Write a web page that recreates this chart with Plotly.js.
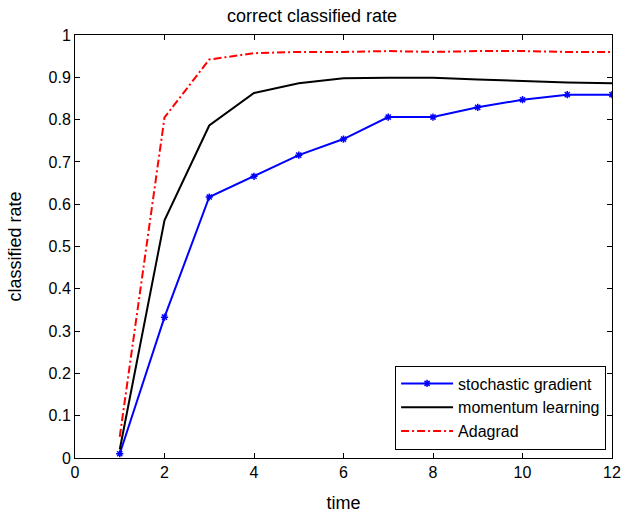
<!DOCTYPE html>
<html>
<head>
<meta charset="utf-8">
<script src="https://cdn.plot.ly/plotly-3.0.1.min.js"></script>
<style>html,body{margin:0;padding:0;background:#fff;}#chart{width:624px;height:516px;}</style>
</head>
<body>
<div id="chart"></div>
<script>
const time = [1,2,3,4,5,6,7,8,9,10,11,12];
const stochastic = [0.01,0.333,0.617,0.666,0.716,0.754,0.806,0.806,0.829,0.847,0.859,0.859];
const momentum = [0.02,0.562,0.786,0.863,0.886,0.898,0.899,0.899,0.895,0.891,0.888,0.886];
const adagrad = [0.05,0.805,0.942,0.957,0.960,0.960,0.962,0.960,0.962,0.962,0.960,0.960];
const xTicks = [0,2,4,6,8,10,12];
const yTicks = [0,0.1,0.2,0.3,0.4,0.5,0.6,0.7,0.8,0.9,1];
const yTickText = ["0","0.1","0.2","0.3","0.4","0.5","0.6","0.7","0.8","0.9","1"];

const traces = [
  {x: time, y: stochastic, name: 'stochastic gradient', mode: 'lines+markers',
   line: {color: '#0000ff', width: 2}, marker: {symbol: 'asterisk-open', size: 6, color: '#0000ff', line: {color: '#0000ff', width: 1.5}}},
  {x: time, y: momentum, name: 'momentum learning', mode: 'lines',
   line: {color: '#000000', width: 2}},
  {x: time, y: adagrad, name: 'Adagrad', mode: 'lines',
   line: {color: '#ff0000', width: 2, dash: '8px,3px,2px,3px'}}
];

const axisCommon = {
  showgrid: false, zeroline: false, showline: true, linecolor: '#000', linewidth: 1,
  mirror: 'ticks', ticks: 'inside', ticklen: 5, tickcolor: '#000', tickwidth: 1,
  tickfont: {family: 'Liberation Sans, Arial, sans-serif', size: 16, color: '#000'}
};

const layout = {
  width: 624, height: 516,
  margin: {l: 75, r: 12, t: 35, b: 58},
  paper_bgcolor: '#fff', plot_bgcolor: '#fff',
  font: {family: 'Liberation Sans, Arial, sans-serif', color: '#000'},
  title: {text: 'correct classified rate', font: {size: 18, color: '#000'}, x: 0.5, xanchor: 'center', y: 0.97, yanchor: 'middle'},
  xaxis: Object.assign({}, axisCommon, {range: [0, 12], tickvals: xTicks,
    title: {text: 'time', font: {size: 18, color: '#000'}, standoff: 16}}),
  yaxis: Object.assign({}, axisCommon, {range: [0, 1], tickvals: yTicks, ticktext: yTickText,
    title: {text: 'classified rate', font: {size: 18, color: '#000'}, standoff: 22}}),
  legend: {x: 0.989, xanchor: 'right', y: 0.02, yanchor: 'bottom',
    bgcolor: '#fff', bordercolor: '#000', borderwidth: 1, itemwidth: 52,
    font: {size: 16, color: '#000'}, tracegroupgap: 0},
  showlegend: true
};

Plotly.newPlot('chart', traces, layout, {displayModeBar: false, staticPlot: true});
</script>
</body>
</html>
